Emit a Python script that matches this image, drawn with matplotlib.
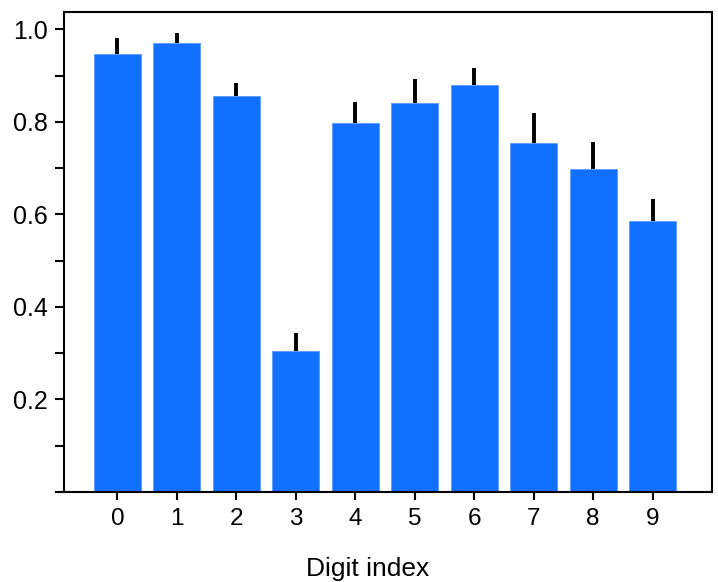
import matplotlib
matplotlib.use("Agg")
import matplotlib.pyplot as plt
import numpy as np
from matplotlib.ticker import MultipleLocator

plt.rcParams["font.family"] = ["Liberation Sans", "DejaVu Sans"]

digits = [0, 1, 2, 3, 4, 5, 6, 7, 8, 9]
accuracy = [0.946, 0.971, 0.856, 0.305, 0.797, 0.840, 0.880, 0.754, 0.699, 0.586]
err_upper = [0.036, 0.022, 0.028, 0.039, 0.047, 0.053, 0.036, 0.066, 0.058, 0.047]

fig = plt.figure(figsize=(7.18, 5.82), dpi=100)
ax = fig.add_axes([0.0891, 0.1546, 0.9025, 0.8248])

yerr = np.array([np.zeros(len(err_upper)), err_upper])
ax.bar(digits, accuracy, width=0.79, color="#1170ff", edgecolor="#5a9cff", linewidth=0.6,
       yerr=yerr, error_kw=dict(ecolor="black", elinewidth=2.8, capsize=0))

ax.set_xlim(-0.9, 10.0)
ax.set_ylim(0, 1.0375)
ax.set_xticks(digits)
ax.yaxis.set_minor_locator(MultipleLocator(0.1))
ax.set_yticks([0.2, 0.4, 0.6, 0.8, 1.0])
ax.set_yticklabels(["0.2", "0.4", "0.6", "0.8", "1.0"])

for s in ax.spines.values():
    s.set_linewidth(1.5)
ax.tick_params(axis="y", which="both", direction="out", length=6.5, width=1.5, labelsize=18, pad=5)
ax.tick_params(axis="x", direction="out", length=5.5, width=1.5, labelsize=17.5, pad=6)

ax.set_xlabel("Digit index", fontsize=19)
ax.xaxis.set_label_coords(0.469, -0.135)

fig.savefig("out.png", dpi=100)
